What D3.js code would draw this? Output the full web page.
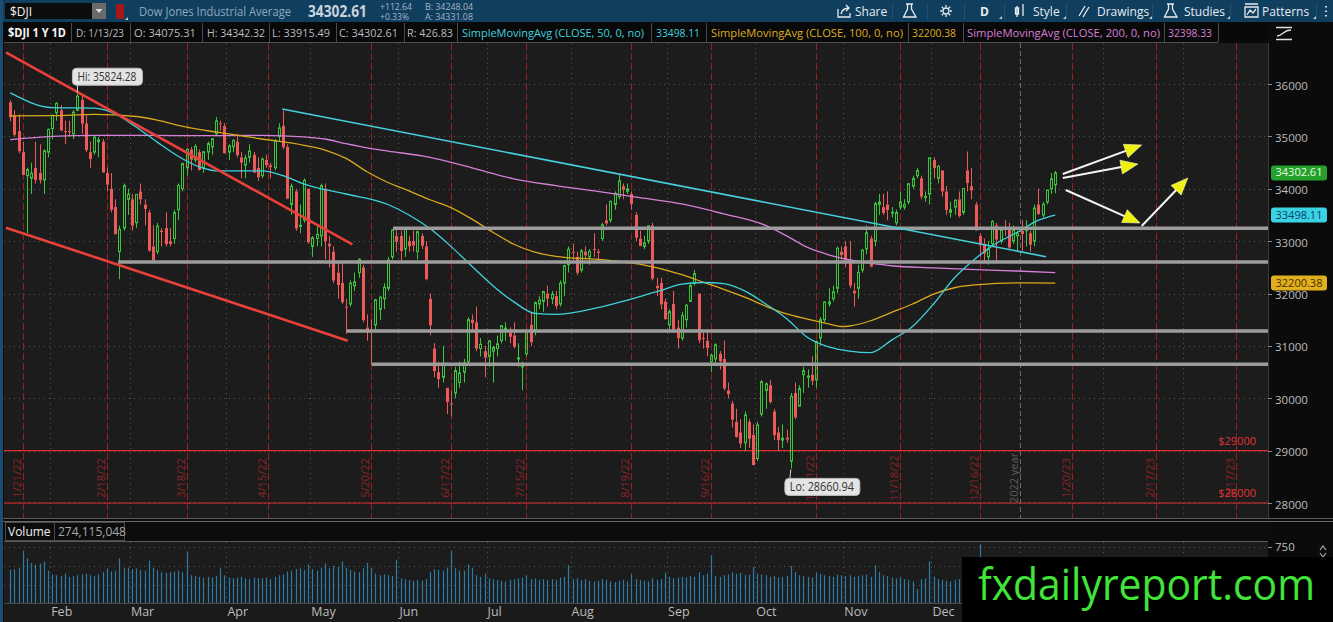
<!DOCTYPE html>
<html>
<head>
<meta charset="utf-8">
<script src="https://cdn.jsdelivr.net/npm/d3@7"></script>
<style>
  body { margin: 0; background: #0b0b0b; overflow: hidden; }
  svg { display: block; }
  text { font-family: "Open Sans", "Roboto", sans-serif; }
</style>
</head>
<body>
<script>
// ---------------- data ($DJI daily 1/18/22 - 1/13/23) ----------------
var holidays = ["2022-02-21", "2022-04-15", "2022-05-30", "2022-06-20", "2022-07-04", "2022-09-05",
                "2022-11-24", "2022-12-26", "2023-01-02", "2023-01-16", "2023-02-20"];

var opens = [
  35650,35400,35100,34700,34250,34200,34400,34300,34170,34700,
  35150,35450,35500,35100,35100,35050,35500,35700,35250,34700,34700,34900,34900,34300,34000,33650,32800,33250,33800,
  33800,33350,33950,33700,33550,32900,32800,33200,33250,33000,33050,33600,34000,34400,34750,34550,34700,34400,34700,34800,35050,35250,35200,
  34700,34800,34900,34600,34450,34600,34650,34400,34250,34550,34450,34400,35000,35200,34800,33700,33950,33300,33400,34000,
  32900,33050,33100,34000,32950,32800,32400,32200,31750,31800,32150,32400,32500,31350,31300,31400,31700,31900,32100,32700,33100,
  33100,32850,33000,33000,32800,33100,32900,31900,30950,30500,30400,30200,29900,30100,30300,30500,30700,31500,31450,30950,30900,
  30800,30900,30950,31100,31300,31250,31200,30750,30600,30850,31400,31300,31800,31850,32000,31900,31950,31800,32200,32550,
  32800,32700,32450,32800,32700,32850,32800,33050,33400,33400,33700,33850,34050,33950,33900,33500,33050,32900,33000,33300,32150,32200,31850,
  31400,31800,31350,31150,31500,31850,32200,32000,31150,31100,30700,30750,30850,30750,30150,29900,29550,29350,29150,29550,29300,
  28850,29700,30150,30250,29750,29350,29200,29250,28800,30100,29850,30450,30400,30450,30350,31150,31500,31800,31900,32100,32800,
  32900,32650,32050,32100,32450,32850,33050,33000,33700,33650,33700,33550,33350,33650,33650,33750,34050,34250,34200,33850,33900,
  34550,34200,34350,33950,33550,33650,33800,33550,34350,34050,33700,33100,32950,32700,32950,33300,33000,33250,33250,33000,33100,
  33200,33200,33150,33000,33700,33500,33750,34000,34075
];
var highs = [
  35690,35500,35420,34900,34400,34500,34900,34850,34750,35150,
  35410,35650,35600,35300,35300,35500,35824,35800,35400,34900,35000,34990,34950,34400,34300,33800,33300,34100,34000,
  33900,33900,34100,33800,33600,33300,33350,33250,33550,33250,33600,34100,34500,34760,34800,34850,34750,34710,34900,34960,35370,35300,35250,
  34850,34950,35050,34700,34650,34850,34700,34600,34600,34650,34500,34950,35250,35492,34850,34100,34000,33700,34200,34000,
  33100,33300,34100,34100,33100,32900,32600,32600,31900,32250,32400,32670,32550,31600,31500,31900,31950,32200,32700,33220,33250,
  33200,33250,33100,33200,33200,33150,33000,32000,31050,30700,31000,30200,30150,30600,30700,30750,31550,31600,31750,31150,31000,
  31100,31000,31200,31400,31450,31350,31450,31050,30700,31300,31650,31850,31950,32050,32150,32050,32050,32250,32550,32900,
  32950,32800,32850,32900,32850,33150,32850,33350,33700,33770,33950,34281,34100,34100,33950,33550,33200,33100,33300,33350,32300,32300,31900,
  31700,32050,31500,31650,31800,32200,32450,32000,31300,31300,30850,31050,30900,31100,30300,29950,29800,29600,29750,29600,29500,
  29550,30350,30300,30350,29800,29450,29500,29400,30100,30300,30250,30600,30550,30800,31100,31550,31850,32100,32150,32900,32900,
  33000,33000,32200,32550,32850,33300,33100,33750,33900,33900,33950,33650,33600,33950,33800,34100,34250,34400,34250,33950,34600,
  34600,34450,34350,34050,33750,33800,33950,34010,34712,34400,33750,33150,33050,33000,33400,33350,33250,33400,33350,33300,33200,
  33400,33400,33200,33700,34000,33750,33980,34300,34342
];
var lows = [
  35290,35000,34680,34260,33150,33900,34100,34100,33900,34600,
  34950,35300,35100,34850,35000,34950,35480,35050,34700,34400,34650,34600,34300,33950,33550,33130,32272,33200,33500,
  33200,33250,33700,33300,32800,32580,32750,32900,32900,32900,32950,33400,33950,34250,34350,34500,34350,34300,34550,34650,35000,35100,34670,
  34550,34700,34600,34200,34200,34500,34300,34150,34200,34400,34200,34350,34900,34750,33800,33500,33200,33150,33350,32950,
  32700,32900,32900,32650,32500,32200,31900,31800,31230,31750,32050,32300,31450,31100,30635,31300,31500,31700,32050,32650,32800,
  32600,32700,32800,32800,32650,32850,32250,31200,30400,30200,30300,29700,29653,30000,30200,30300,30650,31300,30900,30800,30400,
  30600,30300,30800,31050,31100,31050,30950,30600,30150,30800,31000,31200,31700,31650,31750,31800,31700,31750,31950,32400,
  32600,32350,32400,32650,32550,32700,32600,33000,33300,33350,33600,33800,33800,33900,33600,33000,32900,32850,32950,32250,31950,31700,31500,
  31250,31250,30950,31100,31350,31850,32150,31050,30950,30800,30500,30650,30550,30150,30000,29440,29250,29050,29000,29050,28715,
  28800,29650,29800,29900,29200,29000,29050,29150,28661,29600,29850,30100,30200,30250,30200,31000,31450,31750,31850,32000,32650,
  32500,32100,31750,31900,32400,32750,32500,32900,33500,33500,33400,33450,33300,33600,33600,33700,34000,34200,33800,33750,33700,
  34200,34100,33850,33500,33450,33500,33450,33500,33950,33800,33200,32700,32600,32550,32900,32600,32950,33100,32850,32950,32800,
  32800,32900,32800,32900,33500,33450,33700,33900,33915
];
var closes = [
  35368,35029,34715,34265,34365,34298,34168,34161,34725,35132,
  35405,35629,35111,35090,35091,35463,35768,35242,34738,34566,34989,34934,34312,34079,33597,33132,33224,34059,33893,
  33295,33891,33795,33615,32817,32633,33286,33174,32944,32945,33544,34063,34481,34755,34553,34807,34359,34708,34861,34956,35294,35229,34678,
  34818,34922,34641,34497,34584,34721,34308,34220,34565,34451,34412,34911,35161,34793,33811,34049,33240,33302,34161,32977,
  33062,33129,34061,32998,32899,32246,32161,31834,31730,32197,32223,32655,31490,31253,31262,31880,31929,32120,32637,33213,32990,
  32813,33248,32900,32916,33180,32911,32273,31393,30517,30365,30669,29927,29889,30530,30483,30677,31501,31438,30947,31029,30775,
  31097,30968,31038,31385,31338,31174,30981,30773,30630,31288,31073,31827,31875,32037,31899,31990,31762,32198,32530,32845,
  32798,32396,32813,32727,32803,32833,32774,33310,33337,33761,33912,34152,33980,33999,33707,33064,32910,32969,33292,32283,32099,31791,31510,
  31656,31318,31145,31581,31775,32152,32381,31105,31135,30962,30822,31020,30706,30184,30077,29590,29261,29135,29684,29226,28726,
  29491,30316,30274,29927,29297,29203,29239,29211,30039,29635,30186,30524,30424,30334,31083,31500,31837,31839,32033,32862,32733,
  32653,32148,32001,32403,32827,33161,32514,33715,33748,33537,33593,33554,33546,33746,33700,34098,34194,34347,33849,33853,34590,
  34395,34430,33947,33596,33598,33781,33476,34005,34109,33966,33202,32920,32758,32850,33376,33027,33204,33242,32876,33221,33147,
  33136,33270,32930,33631,33518,33704,33973,34190,34303
];
// volume in millions
var volumes = [
  450,460,470,700,600,540,520,530,560,440,
  390,380,370,400,360,370,380,390,400,380,370,390,420,470,430,440,600,470,480,
  460,470,450,440,570,480,450,420,410,420,430,440,420,690,380,370,360,350,360,350,370,470,380,
  350,340,350,360,340,330,350,345,340,350,330,360,380,390,430,440,460,470,450,520,
  460,440,480,535,470,500,490,560,480,450,430,420,470,540,480,400,380,390,380,370,580,
  340,330,320,310,320,310,330,420,460,450,440,480,700,470,440,440,520,480,380,360,400,
  340,330,320,310,300,320,330,340,350,380,330,340,320,330,320,330,320,350,360,510,
  330,340,320,330,310,300,310,330,320,300,290,310,320,300,400,330,320,310,300,340,320,330,410,
  360,340,350,360,350,370,360,420,380,400,640,370,360,380,390,420,400,410,380,390,490,
  400,390,380,360,370,350,360,370,500,420,380,370,360,350,420,400,380,370,360,390,380,
  370,380,360,370,380,390,360,510,420,380,370,350,340,360,330,320,300,200,330,340,560,
  360,330,320,310,300,320,330,340,350,360,370,780,330,300,310,290,250,260,270,280,290,
  310,300,290,320,300,290,280,290,274
];

// moving averages (day index -> value)
var sma50Day = [0,10,20,25,30,35,40,45,50,60,65,70,80,90,95,100,105,110,115,120,125,130,140,150,155,160,165,170,175,180,185,190,195,200,205,210,215,220,225,230,235,240,245,249];
var sma50Val = [35830,35550,35540,35430,35180,34890,34620,34420,34340,34340,34250,34090,33900,33700,33500,33240,32900,32520,32150,31840,31620,31600,31730,31940,32060,32180,32210,32190,32050,31800,31520,31160,30980,30900,30870,31110,31370,31800,32300,32670,32960,33170,33400,33498];
var sma100Day = [0,10,20,30,35,40,50,60,70,75,80,85,90,95,100,105,110,115,120,125,130,140,150,160,165,170,175,180,185,190,195,198,200,205,210,215,220,225,230,240,249];
var sma100Val = [35390,35395,35420,35380,35310,35210,35070,34950,34830,34740,34580,34325,34120,33960,33790,33640,33420,33170,32940,32790,32710,32650,32560,32360,32220,32080,31930,31760,31610,31510,31420,31370,31380,31480,31640,31800,31990,32110,32165,32205,32200];
var sma200Day = [0,10,20,30,40,50,60,70,75,80,85,90,100,110,120,130,140,150,160,170,180,185,190,195,200,205,210,220,230,240,249];
var sma200Val = [34940,35000,35020,35020,35015,35015,35020,34990,34950,34860,34780,34720,34600,34400,34190,34060,33950,33830,33710,33520,33300,33100,32880,32740,32640,32580,32530,32490,32455,32430,32398];

var priceTicks = [28000, 29000, 30000, 31000, 32000, 33000, 34000, 35000, 36000];
var volTicks = [250, 500, 750];
var alertLevels = [29000, 28000];
var supportLevels = [[25.7, 32600], [80.2, 31285], [86.2, 30650], [91.2, 33245]]; // start day, level
var monthNames = ["Jan","Feb","Mar","Apr","May","Jun","Jul","Aug","Sep","Oct","Nov","Dec"];

// ---------------- layout ----------------
var w = 1333, h = 622;
var plotL = 4, plotR = 1268, mainT = 43, mainB = 518, volT = 542, volB = 603;
var bg = "#1c1c1c", up = "#3cc43c", down = "#ec5a5a";
var sans = "Liberation Sans, Arial, sans-serif";

var svg = d3.select("body").append("svg").attr("width", w).attr("height", h);

var fmt = d3.timeFormat("%Y-%m-%d");
var days = d3.timeDay.range(new Date(2022, 0, 18), new Date(2023, 3, 1))
  .filter(function(d) { var k = d.getDay(); return k > 0 && k < 6 && holidays.indexOf(fmt(d)) < 0; });

var x = d3.scaleLinear().domain([-1.5, 299.7]).range([plotL, plotR]);
var y = d3.scaleLinear().domain([27714, 36783]).range([mainB, mainT]);
var yv = d3.scaleLinear().domain([0, 750]).range([604.6, 546.7]);

var bars = closes.map(function(c, i) {
  return { i: i, o: opens[i], h: Math.max(highs[i], opens[i], c), l: Math.min(lows[i], opens[i], c), c: c, v: volumes[i] };
});

// day index of a calendar date (holiday -> halfway after previous session)
function dayIndex(date) {
  var k = d3.bisectLeft(days, date);
  if (k < days.length && +days[k] === +date) return k;
  return k - 0.5;
}

// monthly option expirations (3rd Friday) and month starts
var opex = [], monthStarts = [];
for (var m = 0; m < 15; m++) {
  var first = new Date(2022, m, 1);
  var fri = new Date(first);
  fri.setDate(1 + ((5 - first.getDay() + 7) % 7) + 14);
  opex.push({ date: fri, i: dayIndex(fri) });
  if (m > 0) {
    var k = d3.bisectLeft(days, first);
    monthStarts.push({ name: monthNames[first.getMonth()], i: k - 0.5, year: first.getMonth() === 0 });
  }
}

// ---------------- backgrounds ----------------
svg.append("rect").attr("width", w).attr("height", h).attr("fill", "#0b0b0b");
svg.append("rect").attr("x", plotL).attr("y", mainT).attr("width", plotR - plotL).attr("height", mainB - mainT).attr("fill", bg);
svg.append("rect").attr("x", plotL).attr("y", volT).attr("width", plotR - plotL).attr("height", volB - volT).attr("fill", bg);
svg.append("rect").attr("x", plotL).attr("y", volB).attr("width", plotR - plotL).attr("height", h - volB).attr("fill", "#1a1a1a");

var defs = svg.append("defs");
defs.append("clipPath").attr("id", "clipMain").append("rect")
  .attr("x", plotL).attr("y", mainT).attr("width", plotR - plotL).attr("height", mainB - mainT);
defs.append("clipPath").attr("id", "clipVol").append("rect")
  .attr("x", plotL).attr("y", volT).attr("width", plotR - plotL).attr("height", volB - volT);

var main = svg.append("g").attr("clip-path", "url(#clipMain)");

// grid
main.selectAll("line.hgrid").data(priceTicks).enter().append("line")
  .attr("x1", plotL).attr("x2", plotR)
  .attr("y1", function(d) { return Math.round(y(d)) + 0.5; }).attr("y2", function(d) { return Math.round(y(d)) + 0.5; })
  .attr("stroke", "#555").attr("stroke-dasharray", "1,4");
main.selectAll("line.vgrid").data(monthStarts.filter(function(d) { return !d.year; })).enter().append("line")
  .attr("x1", function(d) { return Math.round(x(d.i)) + 0.5; }).attr("x2", function(d) { return Math.round(x(d.i)) + 0.5; })
  .attr("y1", mainT).attr("y2", mainB)
  .attr("stroke", "#555").attr("stroke-dasharray", "1,4");

// expiration lines + labels
var exFmt = d3.timeFormat("%-m/%-d/%y");
main.selectAll("line.opex").data(opex).enter().append("line")
  .attr("x1", function(d) { return Math.round(x(d.i)) + 0.5; }).attr("x2", function(d) { return Math.round(x(d.i)) + 0.5; })
  .attr("y1", mainT).attr("y2", mainB)
  .attr("stroke", "#9a1f22").attr("stroke-dasharray", "7,3");
main.selectAll("text.opex").data(opex).enter().append("text")
  .attr("transform", function(d) { return "translate(" + (x(d.i) - 2) + ",478) rotate(-90)"; })
  .attr("text-anchor", "middle").attr("font-size", 11).attr("fill", "#8c2325")
  .text(function(d) { return exFmt(d.date); });

// year separator
var yearLine = monthStarts.filter(function(d) { return d.year; })[0];
main.append("line")
  .attr("x1", Math.round(x(yearLine.i)) + 0.5).attr("x2", Math.round(x(yearLine.i)) + 0.5)
  .attr("y1", mainT).attr("y2", mainB).attr("stroke", "#6c6c6c").attr("stroke-dasharray", "5,3");
main.append("text")
  .attr("transform", "translate(" + (x(yearLine.i) - 2) + ",478) rotate(-90)")
  .attr("text-anchor", "middle").attr("font-size", 11).attr("fill", "#5f5f5f").text("2022 year");

// price alerts
main.selectAll("line.alert").data(alertLevels).enter().append("line")
  .attr("x1", plotL).attr("x2", plotR)
  .attr("y1", function(d) { return y(d); }).attr("y2", function(d) { return y(d); })
  .attr("stroke", "#e02c2c").attr("stroke-width", 1.2);
main.selectAll("text.alert").data(alertLevels).enter().append("text")
  .attr("x", 1256).attr("y", function(d) { return y(d) - 6; })
  .attr("text-anchor", "end").attr("font-size", 11).attr("fill", "#e03434")
  .text(function(d) { return "$" + d; });

// candles
var cg = main.append("g");
bars.forEach(function(d) {
  var cx = Math.round(x(d.i));
  var col = d.c >= d.o ? up : down;
  var top = y(Math.max(d.o, d.c)), bot = y(Math.min(d.o, d.c));
  cg.append("path")
    .attr("d", "M" + (cx + 0.5) + "," + y(d.h) + "V" + top + "M" + (cx + 0.5) + "," + bot + "V" + y(d.l))
    .attr("stroke", col).attr("stroke-width", 1);
  if (d.c >= d.o) {
    cg.append("rect").attr("x", cx - 0.5).attr("y", top).attr("width", 2).attr("height", Math.max(1, bot - top))
      .attr("fill", "none").attr("stroke", col).attr("stroke-width", 1);
  } else {
    cg.append("rect").attr("x", cx - 1).attr("y", top).attr("width", 3).attr("height", Math.max(1, bot - top))
      .attr("fill", col);
  }
});

// moving averages
var line = d3.line().x(function(d) { return x(d[0]); }).y(function(d) { return y(d[1]); }).curve(d3.curveMonotoneX);
var smaSets = [
  { day: sma200Day, val: sma200Val, color: "#d67fd6" },
  { day: sma100Day, val: sma100Val, color: "#d9a81c" },
  { day: sma50Day, val: sma50Val, color: "#3fd2de" }
];
smaSets.forEach(function(s) {
  main.append("path").datum(d3.zip(s.day, s.val)).attr("d", line)
    .attr("fill", "none").attr("stroke", s.color).attr("stroke-width", 1.3);
});

// drawings: support levels
main.selectAll("line.support").data(supportLevels).enter().append("line")
  .attr("x1", function(d) { return x(d[0]); }).attr("x2", plotR)
  .attr("y1", function(d) { return y(d[1]); }).attr("y2", function(d) { return y(d[1]); })
  .attr("stroke", "#9c9c9c").attr("stroke-width", 3.5);

// drawings: trend lines [day1, price1, day2, price2]
var trendLines = [
  { p: [-1.05, 36605, 81.5, 32940], color: "#e8413c", width: 2.6 },
  { p: [-1.05, 33257, 80.4, 31099], color: "#e8413c", width: 2.6 },
  { p: [64.8, 35523, 246.8, 32703], color: "#45d0dc", width: 1.6 }
];
trendLines.forEach(function(t) {
  main.append("line").attr("x1", x(t.p[0])).attr("y1", y(t.p[1])).attr("x2", x(t.p[2])).attr("y2", y(t.p[3]))
    .attr("stroke", t.color).attr("stroke-width", t.width);
});

// drawings: projection arrows
var arrows = [
  [250.8, 34282, 269.6, 34835],
  [250.8, 34206, 268.7, 34473],
  [251.5, 33976, 269.2, 33346],
  [269.6, 33289, 280.6, 34206]
];
arrows.forEach(function(a) {
  var x1 = x(a[0]), y1 = y(a[1]), x2 = x(a[2]), y2 = y(a[3]);
  var len = Math.hypot(x2 - x1, y2 - y1), ux = (x2 - x1) / len, uy = (y2 - y1) / len;
  var bx = x2 - ux * 17, by = y2 - uy * 17;
  main.append("line").attr("x1", x1).attr("y1", y1).attr("x2", bx + ux * 3).attr("y2", by + uy * 3)
    .attr("stroke", "#f4f4f4").attr("stroke-width", 2);
  main.append("path")
    .attr("d", "M" + x2 + "," + y2 + "L" + (bx - uy * 7) + "," + (by + ux * 7) + "L" + (bx + uy * 7) + "," + (by - ux * 7) + "Z")
    .attr("fill", "#eef20e").attr("stroke", "#fafad0").attr("stroke-width", 0.6);
});

// hi / lo callouts
function callout(idx, price, label, dx, dy, w) {
  var px = x(idx), py = y(price);
  var bx = px + dx, by = py + dy;
  main.append("line").attr("x1", px).attr("y1", py + (dy < 0 ? -1 : 1)).attr("x2", bx + 5).attr("y2", dy < 0 ? by + 17 : by)
    .attr("stroke", "#d8d8d8").attr("stroke-width", 1);
  main.append("rect").attr("x", bx).attr("y", by).attr("width", w).attr("height", 17).attr("rx", 4)
    .attr("fill", "#e4e4e4").attr("stroke", "#bbb");
  main.append("text").attr("x", bx + 5).attr("y", by + 12.5).attr("font-size", 12).attr("fill", "#333")
    .attr("textLength", w - 11).attr("lengthAdjust", "spacingAndGlyphs").text(label);
}
var hiIdx = d3.maxIndex(bars, function(d) { return d.h; });
var loIdx = d3.minIndex(bars, function(d) { return d.l; });
callout(hiIdx, bars[hiIdx].h, "Hi: 35824.28", -5, -25, 70);
callout(loIdx, bars[loIdx].l, "Lo: 28660.94", -6, 10, 75);

// ---------------- right axis ----------------
svg.append("rect").attr("x", plotR).attr("y", 22).attr("width", w - plotR).attr("height", h - 22).attr("fill", "#0b0b0b");
svg.append("line").attr("x1", plotR + 0.5).attr("x2", plotR + 0.5).attr("y1", mainT).attr("y2", mainB).attr("stroke", "#3a3a3a");
var ax = svg.append("g");
ax.selectAll("line").data(priceTicks).enter().append("line")
  .attr("x1", plotR).attr("x2", plotR + 4)
  .attr("y1", function(d) { return Math.round(y(d)) + 0.5; }).attr("y2", function(d) { return Math.round(y(d)) + 0.5; })
  .attr("stroke", "#888");
ax.selectAll("text").data(priceTicks).enter().append("text")
  .attr("x", plotR + 7).attr("y", function(d) { return y(d) + 5.5; })
  .attr("font-family", sans)
  .attr("font-size", 11.5).attr("fill", "#bdbdbd").text(function(d) { return d; });

var badges = [
  { v: closes[closes.length - 1], label: "34302.61", fill: "#25a02a", text: "#e6ffe0" },
  { v: sma50Val[sma50Val.length - 1], label: "33498.11", fill: "#3ad3e4", text: "#0a3f66" },
  { v: sma100Val[sma100Val.length - 1], label: "32200.38", fill: "#e2b01e", text: "#4a3000" }
];
badges.forEach(function(b) {
  var by = y(b.v);
  svg.append("rect").attr("x", plotR + 3).attr("y", by - 7.5).attr("width", 56).attr("height", 15).attr("rx", 3)
    .attr("fill", b.fill);
  svg.append("text").attr("x", plotR + 31).attr("y", by + 3.5).attr("text-anchor", "middle")
    .attr("font-family", sans)
    .attr("font-size", 11).attr("fill", b.text).text(b.label);
});

// ---------------- volume panel ----------------
svg.append("line").attr("x1", 0).attr("x2", w).attr("y1", 518.5).attr("y2", 518.5).attr("stroke", "#5a5a5a");
svg.append("line").attr("x1", 0).attr("x2", w).attr("y1", 521.5).attr("y2", 521.5).attr("stroke", "#6a6a6a");
svg.append("rect").attr("x", plotL).attr("y", 522).attr("width", plotR - plotL).attr("height", 19).attr("fill", "#0c0c0c");
svg.append("line").attr("x1", plotL).attr("x2", plotR).attr("y1", 541.5).attr("y2", 541.5).attr("stroke", "#5a5a5a");
svg.append("rect").attr("x", plotL + 1.5).attr("y", 522.5).attr("width", 119).attr("height", 18).attr("fill", "none").attr("stroke", "#4a4a4a");
svg.append("line").attr("x1", 54.5).attr("x2", 54.5).attr("y1", 522).attr("y2", 541).attr("stroke", "#4a4a4a");
svg.append("text").attr("x", 8).attr("y", 536).attr("font-size", 12).attr("fill", "#f0f0f0").text("Volume");
svg.append("text").attr("x", 58).attr("y", 536).attr("font-size", 12).attr("fill", "#a8a8a8").text("274,115,048");

var vol = svg.append("g").attr("clip-path", "url(#clipVol)");
vol.selectAll("line.vg").data(volTicks).enter().append("line")
  .attr("x1", plotL).attr("x2", plotR)
  .attr("y1", function(d) { return Math.round(yv(d)) + 0.5; }).attr("y2", function(d) { return Math.round(yv(d)) + 0.5; })
  .attr("stroke", "#555").attr("stroke-dasharray", "1,4");
vol.selectAll("line.vm").data(monthStarts).enter().append("line")
  .attr("x1", function(d) { return Math.round(x(d.i)) + 0.5; }).attr("x2", function(d) { return Math.round(x(d.i)) + 0.5; })
  .attr("y1", volT).attr("y2", volB).attr("stroke", "#555").attr("stroke-dasharray", "1,4");
vol.selectAll("line.vb").data(bars).enter().append("line")
  .attr("x1", function(d) { return Math.round(x(d.i)) + 0.5; }).attr("x2", function(d) { return Math.round(x(d.i)) + 0.5; })
  .attr("y1", yv(0)).attr("y2", function(d) { return yv(d.v); })
  .attr("stroke", "#2c7ca6").attr("stroke-width", 1.2);
svg.append("line").attr("x1", plotL).attr("x2", plotR).attr("y1", volB + 0.5).attr("y2", volB + 0.5).attr("stroke", "#4a4a4a");

svg.append("line").attr("x1", plotR).attr("x2", plotR + 4).attr("y1", Math.round(yv(750)) + 0.5).attr("y2", Math.round(yv(750)) + 0.5).attr("stroke", "#888");
svg.append("text").attr("x", plotR + 7).attr("y", yv(750) + 4.5).attr("font-family", sans)
  .attr("font-size", 11.5).attr("fill", "#bdbdbd").text("750");
svg.append("path").attr("d", "M1320,550 L1323,546 L1326,550 M1320,553 L1323,557 L1326,553")
  .attr("fill", "none").attr("stroke", "#aaa").attr("stroke-width", 1.2);

// month labels (later months sit under the watermark box)
svg.selectAll("text.month").data(monthStarts.filter(function(d) { return x(d.i) < 950; })).enter().append("text")
  .attr("x", function(d) { return x(d.i) + 1; }).attr("y", 616)
  .attr("font-size", 12.5).attr("fill", "#bcbcbc").text(function(d) { return d.name; });

// ---------------- header ----------------
svg.append("rect").attr("width", w).attr("height", 22).attr("fill", "#0f3e5e");
svg.append("rect").attr("x", 0).attr("y", 0).attr("width", 3).attr("height", h).attr("fill", "#1b4c72");
svg.append("rect").attr("x", 5).attr("y", 3).attr("width", 87).attr("height", 16).attr("fill", "#0d0d0d");
svg.append("text").attr("x", 10).attr("y", 15.5).attr("font-size", 12).attr("fill", "#f2f2f2").text("$DJI");
svg.append("rect").attr("x", 92).attr("y", 3).attr("width", 14).attr("height", 16).attr("fill", "#6a6a6a");
svg.append("path").attr("d", "M95.5,9 L102.5,9 L99,13 Z").attr("fill", "#ddd");
svg.append("rect").attr("x", 116).attr("y", 4).attr("width", 8).attr("height", 15).attr("rx", 2).attr("fill", "#a8161a");
svg.append("path").attr("d", "M125,20 L128,17 L128,20 Z").attr("fill", "#ccc");
svg.append("text").attr("x", 139).attr("y", 15.5).attr("font-size", 13).attr("fill", "#8ea8c0")
  .attr("textLength", 152).attr("lengthAdjust", "spacingAndGlyphs").text("Dow Jones Industrial Average");
svg.append("text").attr("x", 308).attr("y", 17).attr("font-size", 15.5).attr("font-weight", "bold").attr("fill", "#c9d3dd")
  .attr("textLength", 59).attr("lengthAdjust", "spacingAndGlyphs").text("34302.61");
var small = [["+112.64", 380, 9.5, 32], ["+0.33%", 380, 20, 29], ["B: 34248.04", 425, 9.5, 48], ["A: 34331.08", 425, 20, 48]];
small.forEach(function(s) {
  svg.append("text").attr("x", s[1]).attr("y", s[2]).attr("font-family", sans)
    .attr("font-size", 9).attr("fill", "#a6b6c6")
    .attr("textLength", s[3]).attr("lengthAdjust", "spacingAndGlyphs").text(s[0]);
});

// toolbar
var tb = svg.append("g").attr("fill", "none").attr("stroke", "#e6ecf2").attr("stroke-width", 1.3);
tb.append("path").attr("d", "M838,9 V17 H850 V13 M841,14 C842,10 845,8 849,8 M846,5 L849,8 L846,11");
tb.append("path").attr("d", "M906,4 H913 M907.5,4 V9 L903.5,17 H916 L911.5,9 V4");
tb.append("circle").attr("cx", 946).attr("cy", 11).attr("r", 3);
tb.append("path").attr("d", "M946,5 V7 M946,15 V17 M940,11 H942 M950,11 H952 M941.8,6.8 L943.2,8.2 M948.8,13.8 L950.2,15.2 M941.8,15.2 L943.2,13.8 M948.8,8.2 L950.2,6.8");
tb.append("path").attr("d", "M1017,6 V17 M1023,4 V16 M1015.5,8 H1018.5 V14 H1015.5 Z");
tb.append("path").attr("d", "M1079,16 L1085,6 M1083,17 L1089,7");
tb.append("path").attr("d", "M1167,4 H1174 M1168.5,4 V9 L1164.5,17 H1177 L1172.5,9 V4");
tb.append("path").attr("d", "M1245,4 H1258 M1245,7 H1258 V17 H1245 Z M1247,15 L1250,10 L1253,13 L1256,9");
var tbText = [["Share", 855], ["D", 980], ["Style", 1033], ["Drawings", 1097], ["Studies", 1184], ["Patterns", 1262]];
tbText.forEach(function(t) {
  svg.append("text").attr("x", t[1]).attr("y", 15.5).attr("font-size", 12).attr("fill", "#e6ecf2")
    .attr("font-weight", t[0] === "D" ? "bold" : "normal").text(t[0]);
});
[892, 927, 964, 1004, 1066, 1152, 1230, 1316].forEach(function(sx) {
  svg.append("line").attr("x1", sx + 0.5).attr("x2", sx + 0.5).attr("y1", 3).attr("y2", 19).attr("stroke", "#22506f");
});
[[999, 19], [1063, 19], [1149, 19], [1227, 19], [1313, 19]].forEach(function(p) {
  svg.append("path").attr("d", "M" + p[0] + "," + p[1] + " l3,-3 v3 z").attr("fill", "#ccc");
});
svg.append("path").attr("d", "M1326,6 v1.5 M1326,10.5 v1.5 M1326,15 v1.5").attr("stroke", "#ddd").attr("stroke-width", 2);

// info row
svg.append("rect").attr("x", 4).attr("y", 22).attr("width", plotR - 4).attr("height", 21).attr("fill", "#090909");
svg.append("line").attr("x1", 4).attr("x2", 1218).attr("y1", 42.5).attr("y2", 42.5).attr("stroke", "#505050");
var infoCells = [
  ["$DJI 1 Y 1D", 8, 58, "#f4f4f4", true],
  ["D: 1/13/23", 76, 48, "#b8bcc0"],
  ["O: 34075.31", 134, 62, "#b8bcc0"],
  ["H: 34342.32", 207, 58, "#b8bcc0"],
  ["L: 33915.49", 272, 58, "#b8bcc0"],
  ["C: 34302.61", 339, 59, "#b8bcc0"],
  ["R: 426.83", 407, 46, "#b8bcc0"],
  ["SimpleMovingAvg (CLOSE, 50, 0, no)", 462, 182, "#3fd2de"],
  ["33498.11", 656, 44, "#3fd2de"],
  ["SimpleMovingAvg (CLOSE, 100, 0, no)", 711, 192, "#dcae22"],
  ["32200.38", 912, 44, "#dcae22"],
  ["SimpleMovingAvg (CLOSE, 200, 0, no)", 967, 193, "#d67fd6"],
  ["32398.33", 1168, 44, "#d67fd6"]
];
infoCells.forEach(function(c) {
  svg.append("text").attr("x", c[1]).attr("y", 36.5).attr("font-size", c[2] > 100 ? 10.6 : 11.5).attr("fill", c[3])
    .attr("font-weight", c[4] ? "bold" : "normal")
    .attr("textLength", c[2]).attr("lengthAdjust", "spacingAndGlyphs").text(c[0]);
});
[71, 130, 202, 269, 336, 404, 457, 651, 706, 908, 963, 1164, 1218].forEach(function(sx) {
  svg.append("line").attr("x1", sx + 0.5).attr("x2", sx + 0.5).attr("y1", 23).attr("y2", 42).attr("stroke", "#4a4a4a");
});
svg.append("path").attr("d", "M1276,27.5 H1292 M1276,39.5 H1292 M1277,36 C1283,36 1283,30 1291,30")
  .attr("fill", "none").attr("stroke", "#e0e0e0").attr("stroke-width", 1.3);

// ---------------- watermark ----------------
svg.append("rect").attr("x", 962).attr("y", 557).attr("width", w - 962).attr("height", h - 557).attr("fill", "#000");
svg.append("text").attr("x", 978).attr("y", 600).attr("font-family", sans)
  .attr("font-size", 43).attr("fill", "#42e43a")
  .attr("textLength", 337).attr("lengthAdjust", "spacingAndGlyphs").text("fxdailyreport.com");
</script>
</body>
</html>
